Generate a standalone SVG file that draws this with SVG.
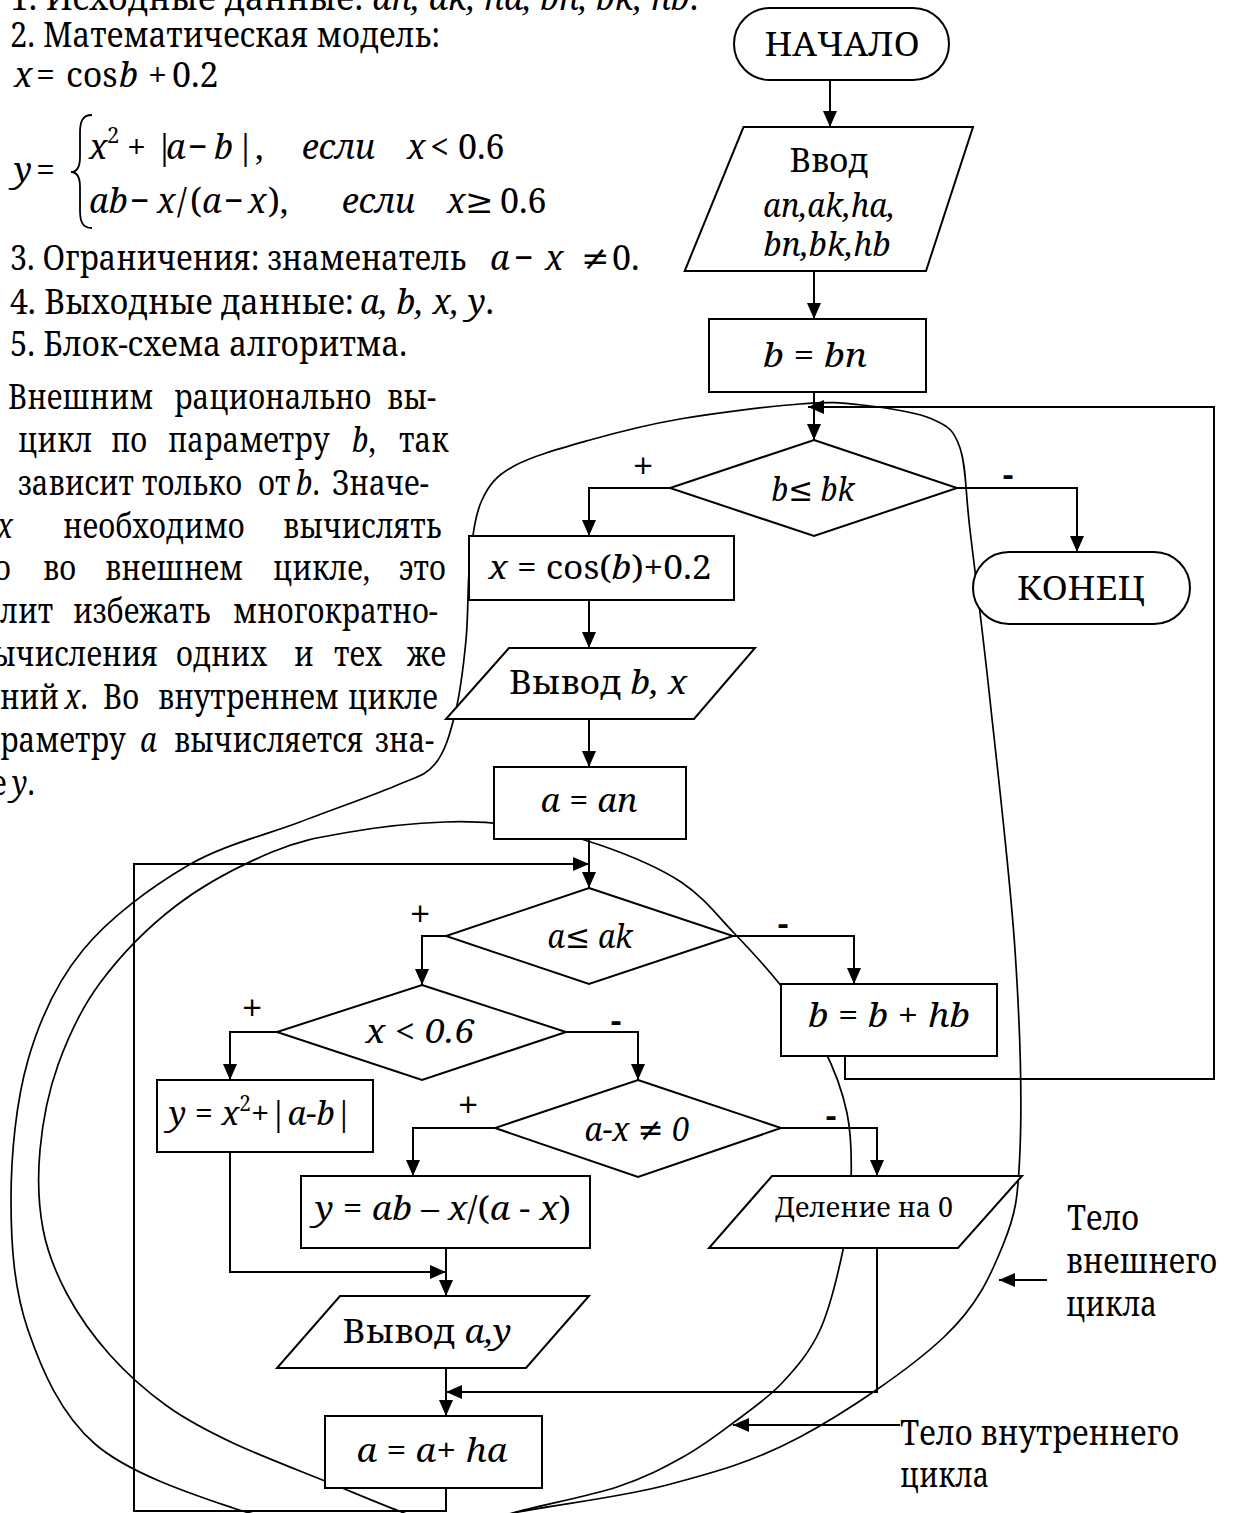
<svg xmlns="http://www.w3.org/2000/svg" width="1234" height="1513" viewBox="0 0 1234 1513">
  <style>
    .t { font-family: "Noto Serif", "DejaVu Serif", serif; font-size: 34px; fill: #000; }
    .n { font-family: "Noto Serif", "DejaVu Serif", serif; font-size: 33px; fill: #000; text-anchor: middle; }
    .i { font-style: italic; }
    .sym { font-family: "DejaVu Serif", serif; font-style: normal; }
    .shape { fill: #fff; stroke: #000; stroke-width: 2; }
    .ln { fill: none; stroke: #000; stroke-width: 2; }
    .cv { fill: none; stroke: #000; stroke-width: 1.7; }
    .sg { font-family: "Noto Serif", "DejaVu Serif", serif; font-size: 38px; fill: #000; text-anchor: middle; }
    .mn { font-family: "Noto Serif", "DejaVu Serif", serif; font-size: 34px; font-weight: bold; fill: #000; text-anchor: middle; }
  </style>
  <defs>
    <marker id="ah" markerUnits="userSpaceOnUse" markerWidth="16" markerHeight="14" refX="16" refY="7" orient="auto">
      <path d="M0,0 L16,7 L0,14 Z" fill="#000"/>
    </marker>
  </defs>
  <rect width="1234" height="1513" fill="#fff"/>

  <!-- problem statement, left column -->
  <g id="statement" class="t">
    <text x="10" y="10" textLength="688" lengthAdjust="spacingAndGlyphs">1. Исходные данные: <tspan class="i">an, ak, ha, bn, bk, hb</tspan>.</text>
    <text x="10" y="47" textLength="430" lengthAdjust="spacingAndGlyphs">2. Математическая модель:</text>
    <text y="87"><tspan x="14" class="i">x</tspan><tspan x="36">=</tspan><tspan x="66">cos</tspan><tspan x="119" class="i">b</tspan><tspan x="148">+</tspan><tspan x="172">0.2</tspan></text>
    <text y="182"><tspan x="14" class="i">y</tspan><tspan x="36">=</tspan></text>
    <text y="159"><tspan x="89" class="i">x</tspan><tspan x="107" y="143" style="font-size:22px">2</tspan><tspan x="127" y="159">+</tspan><tspan x="155">|</tspan><tspan x="166" class="i">a</tspan><tspan x="188">−</tspan><tspan x="214" class="i">b</tspan><tspan x="236">|,</tspan><tspan x="302" class="i">если</tspan><tspan x="407" class="i">x</tspan><tspan x="430">&lt;</tspan><tspan x="458">0.6</tspan></text>
    <text y="213"><tspan x="89" class="i">ab</tspan><tspan x="130">−</tspan><tspan x="157" class="i">x</tspan><tspan x="177">/</tspan><tspan x="190">(</tspan><tspan x="202" class="i">a</tspan><tspan x="224">−</tspan><tspan x="248" class="i">x</tspan><tspan x="268">),</tspan><tspan x="342" class="i">если</tspan><tspan x="447" class="i">x</tspan><tspan x="465">≥</tspan><tspan x="500">0.6</tspan></text>
    <text x="10" y="270" textLength="456" lengthAdjust="spacingAndGlyphs">3. Ограничения: знаменатель</text>
    <text y="270"><tspan x="490" class="i">a</tspan><tspan x="514">−</tspan><tspan x="545" class="i">x</tspan><tspan x="581" class="sym">≠</tspan><tspan x="612">0.</tspan></text>
    <text x="10" y="314" textLength="344" lengthAdjust="spacingAndGlyphs">4. Выходные данные:</text>
    <text x="360" y="314" textLength="134" lengthAdjust="spacingAndGlyphs"><tspan class="i">a, b, x, y</tspan>.</text>
    <text x="10" y="356" textLength="397" lengthAdjust="spacingAndGlyphs">5. Блок-схема алгоритма.</text>
  </g>
  <path id="brace" class="ln" style="stroke-width:1.8" d="M92,115 C82,115 80,122 80,133 L80,157 C80,167 77,172 71,172 C77,172 80,177 80,187 L80,210 C80,221 82,228 92,228"/>

  <!-- justified paragraph, set condensed -->
  <g id="paragraph" class="t" transform="scale(0.86 1)">
    <text y="409"><tspan x="9.3">Внешним</tspan><tspan x="202.3">рационально</tspan><tspan x="450">вы-</tspan></text>
    <text y="452"><tspan x="20.9">цикл</tspan><tspan x="129.1">по</tspan><tspan x="195.3">параметру</tspan><tspan x="409.3" class="i">b</tspan><tspan>,</tspan><tspan x="464">так</tspan></text>
    <text y="495"><tspan x="20.9">зависит</tspan><tspan x="165.1">только</tspan><tspan x="300">от</tspan><tspan x="344.2" class="i">b</tspan><tspan>.</tspan><tspan x="386">Значе-</tspan></text>
    <text y="538"><tspan x="-3.5" class="i">x</tspan><tspan x="73.3">необходимо</tspan><tspan x="329.1">вычислять</tspan></text>
    <text y="580"><tspan x="-7">о</tspan><tspan x="50">во</tspan><tspan x="122.1">внешнем</tspan><tspan x="317.4">цикле,</tspan><tspan x="464">это</tspan></text>
    <text y="623"><tspan x="0">лит</tspan><tspan x="84.9">избежать</tspan><tspan x="270.9">многократно-</tspan></text>
    <text y="666"><tspan x="-9.3">ычисления</tspan><tspan x="204.7">одних</tspan><tspan x="341.9">и</tspan><tspan x="388.4">тех</tspan><tspan x="473.3">же</tspan></text>
    <text y="709"><tspan x="0">ний</tspan><tspan x="75" class="i">x</tspan><tspan>.</tspan><tspan x="119.8">Во</tspan><tspan x="183.7">внутреннем</tspan><tspan x="404.7">цикле</tspan></text>
    <text y="752"><tspan x="0">раметру</tspan><tspan x="162.8" class="i">a</tspan><tspan x="202.3">вычисляется</tspan><tspan x="436">зна-</tspan></text>
    <text y="795"><tspan x="-10.5">е</tspan><tspan x="14" class="i">y</tspan><tspan>.</tspan></text>
  </g>

  <!-- loop body outlines -->
  <g id="loop-bodies">
    <path id="outer-body" class="cv" d="M420,1535 C450.5,1533.2 471.8,1521.3 513,1513 S619.2,1497.7 667,1485 S753.8,1461.7 800,1437 S910.2,1369 944,1337 S990.3,1276.2 1003,1245 S1018,1199.2 1020,1150 S1020,1025 1015,950 S997.5,770 990,700 S975,572 970,530 S966.3,466.5 960,448 S948.3,426.2 932,419 S884,407.5 862,405 S830.3,401.7 800,404 S715,413 680,419 S617.7,432.2 590,440 S532,456 514,466 S489.3,484.3 482,500 S472.7,536.7 470,560 S468.5,614.3 466,640 S460.2,693.3 455,714 S445,752 435,764 S417.5,776.3 395,786 S334.7,808.7 300,822 S223.2,844.7 187,866 S109.5,917.7 83,950 S40,1018.3 28,1060 S11,1155 11,1200 S14,1289.3 28,1330 S60.8,1414.3 95,1444 S193.8,1494.7 233,1508 S298.8,1519.5 330,1524 S389.5,1536.8 420,1535 Z"/>
    <path id="inner-body" class="cv" d="M460,1532 C479,1532.3 486.8,1520.5 513,1513 S588.7,1496.3 617,1487 S663.7,1467.7 683,1457 S716.5,1435.3 733,1423 S767.5,1398.5 782,1383 S809.8,1352.2 820,1330 S837.8,1274.5 843,1250 S850.3,1205.8 851,1183 S851.7,1135.7 847,1113 S833.8,1068 823,1047 S796.8,1006 782,987 S750.8,950.5 734,933 S703.3,896.7 681,882 S626.8,854.3 600,845 S545.8,829.8 520,826 S473.3,821 445,822 S378.8,827 350,832 S300.8,839.8 272,852 S205.7,883.2 177,905 S119.8,956.3 100,983 S68,1037.2 58,1065 S42.5,1122.7 40,1150 S38.5,1205 43,1229 S55.8,1273 67,1294 S93.3,1336.3 110,1355 S146.5,1391.3 167,1406 S205.8,1430.2 233,1443 S302.3,1471.7 330,1483 S377.3,1502.8 399,1511 S441,1531.7 460,1532 Z"/>
  </g>

  <!-- flow lines -->
  <g id="connectors" class="ln">
    <line x1="830" y1="80" x2="830" y2="127" marker-end="url(#ah)"/>
    <line x1="814" y1="271" x2="814" y2="319" marker-end="url(#ah)"/>
    <line x1="814" y1="392" x2="814" y2="440" marker-end="url(#ah)"/>
    <polyline points="845,1056 845,1079 1214,1079 1214,407 808,407" marker-end="url(#ah)"/>
    <polyline points="670,488 589,488 589,536" marker-end="url(#ah)"/>
    <polyline points="957,488 1077,488 1077,552" marker-end="url(#ah)"/>
    <line x1="589" y1="600" x2="589" y2="648" marker-end="url(#ah)"/>
    <line x1="589" y1="719" x2="589" y2="767" marker-end="url(#ah)"/>
    <line x1="589" y1="839" x2="589" y2="888" marker-end="url(#ah)"/>
    <polyline points="446,1488 446,1511 134,1511 134,864 589,864" marker-end="url(#ah)"/>
    <polyline points="446,936 422,936 422,985" marker-end="url(#ah)"/>
    <polyline points="733,936 854,936 854,984" marker-end="url(#ah)"/>
    <polyline points="277,1032 230,1032 230,1080" marker-end="url(#ah)"/>
    <polyline points="566,1032 638,1032 638,1080" marker-end="url(#ah)"/>
    <polyline points="495,1128 413,1128 413,1176" marker-end="url(#ah)"/>
    <polyline points="781,1128 877,1128 877,1176" marker-end="url(#ah)"/>
    <line x1="446" y1="1248" x2="446" y2="1296" marker-end="url(#ah)"/>
    <polyline points="230,1152 230,1272 446,1272" marker-end="url(#ah)"/>
    <line x1="446" y1="1368" x2="446" y2="1416" marker-end="url(#ah)"/>
    <polyline points="877,1248 877,1392 446,1392" marker-end="url(#ah)"/>
    <line x1="1047" y1="1280" x2="999" y2="1280" marker-end="url(#ah)"/>
    <line x1="900" y1="1425" x2="733" y2="1425" marker-end="url(#ah)"/>
  </g>

  <!-- branch labels -->
  <g id="branch-labels">
    <text class="sg" x="643" y="480">+</text>
    <text class="mn" x="1008" y="487">-</text>
    <text class="sg" x="420" y="928">+</text>
    <text class="mn" x="783" y="936">-</text>
    <text class="sg" x="252" y="1022">+</text>
    <text class="mn" x="616" y="1033">-</text>
    <text class="sg" x="468" y="1119">+</text>
    <text class="mn" x="831" y="1128">-</text>
  </g>

  <g id="start">
    <rect class="shape" x="734" y="8" width="215" height="72" rx="36"/>
    <text class="n" x="842" y="56" textLength="155" lengthAdjust="spacingAndGlyphs">НАЧАЛО</text>
  </g>
  <g id="input">
    <polygon class="shape" points="743.5,127 973,127 926,271 684.7,271"/>
    <text class="n" x="829" y="172" style="font-size:32px" textLength="79" lengthAdjust="spacingAndGlyphs">Ввод</text>
    <text class="n i" x="829" y="217" style="font-size:32px" textLength="132" lengthAdjust="spacingAndGlyphs">an,ak,ha,</text>
    <text class="n i" x="827" y="256" style="font-size:32px" textLength="127" lengthAdjust="spacingAndGlyphs">bn,bk,hb</text>
  </g>
  <g id="init-b">
    <rect class="shape" x="709" y="319" width="217" height="73"/>
    <text class="n" x="815" y="367" textLength="104" lengthAdjust="spacingAndGlyphs"><tspan class="i">b</tspan> = <tspan class="i">bn</tspan></text>
  </g>
  <g id="cond-b">
    <polygon class="shape" points="814,440 957,488 814,536 670,488"/>
    <text class="n" x="813" y="501" textLength="83" lengthAdjust="spacingAndGlyphs"><tspan class="i">b</tspan>≤<tspan class="i"> bk</tspan></text>
  </g>
  <g id="end">
    <rect class="shape" x="973" y="552" width="217" height="72" rx="36"/>
    <text class="n" x="1081" y="600" textLength="128" lengthAdjust="spacingAndGlyphs">КОНЕЦ</text>
  </g>
  <g id="calc-x">
    <rect class="shape" x="469" y="536" width="265" height="64"/>
    <text class="n" x="600" y="579" textLength="223" lengthAdjust="spacingAndGlyphs"><tspan class="i">x</tspan> = cos(<tspan class="i">b</tspan>)+0.2</text>
  </g>
  <g id="out-bx">
    <polygon class="shape" points="509,648 755,648 694,719 446,719"/>
    <text class="n" x="598" y="694" textLength="178" lengthAdjust="spacingAndGlyphs">Вывод  <tspan class="i">b, x</tspan></text>
  </g>
  <g id="init-a">
    <rect class="shape" x="494" y="767" width="192" height="72"/>
    <text class="n" x="589" y="812" textLength="97" lengthAdjust="spacingAndGlyphs"><tspan class="i">a</tspan> = <tspan class="i">an</tspan></text>
  </g>
  <g id="cond-a">
    <polygon class="shape" points="589,888 733,936 589,984 446,936"/>
    <text class="n" x="590" y="948" textLength="85" lengthAdjust="spacingAndGlyphs"><tspan class="i">a</tspan>≤<tspan class="i"> ak</tspan></text>
  </g>
  <g id="step-b">
    <rect class="shape" x="781" y="984" width="216" height="72"/>
    <text class="n" x="889" y="1027" textLength="162" lengthAdjust="spacingAndGlyphs"><tspan class="i">b</tspan> = <tspan class="i">b</tspan> + <tspan class="i">hb</tspan></text>
  </g>
  <g id="cond-x">
    <polygon class="shape" points="422,985 566,1032 422,1080 277,1032"/>
    <text class="n i" x="420" y="1043" textLength="109" lengthAdjust="spacingAndGlyphs">x &lt; 0.6</text>
  </g>
  <g id="calc-y1">
    <rect class="shape" x="157" y="1080" width="216" height="72"/>
    <text class="n" x="261" y="1125" textLength="184" lengthAdjust="spacingAndGlyphs"><tspan class="i">y</tspan> = <tspan class="i">x</tspan><tspan dy="-14" style="font-size:21px">2</tspan><tspan dy="14">+|</tspan><tspan class="i">a-b</tspan>|</text>
  </g>
  <g id="cond-ax">
    <polygon class="shape" points="638,1080 781,1128 638,1177 495,1128"/>
    <text class="n" x="637" y="1141" textLength="105" lengthAdjust="spacingAndGlyphs"><tspan class="i">a-x </tspan><tspan class="sym">≠</tspan><tspan class="i"> 0</tspan></text>
  </g>
  <g id="calc-y2">
    <rect class="shape" x="301" y="1176" width="289" height="72"/>
    <text class="n" x="443" y="1220" textLength="256" lengthAdjust="spacingAndGlyphs"><tspan class="i">y</tspan> = <tspan class="i">ab</tspan> – <tspan class="i">x</tspan>/(<tspan class="i">a</tspan> - <tspan class="i">x</tspan>)</text>
  </g>
  <g id="div-zero">
    <polygon class="shape" points="772,1176 1022,1176 958,1248 709,1248"/>
    <text class="n" x="864" y="1217" style="font-size:27px" textLength="178" lengthAdjust="spacingAndGlyphs">Деление на 0</text>
  </g>
  <g id="out-ay">
    <polygon class="shape" points="340,1296 589,1296 526,1368 277,1368"/>
    <text class="n" x="427" y="1343" textLength="169" lengthAdjust="spacingAndGlyphs">Вывод  <tspan class="i">a,y</tspan></text>
  </g>
  <g id="step-a">
    <rect class="shape" x="325" y="1416" width="217" height="72"/>
    <text class="n" x="432" y="1462" textLength="151" lengthAdjust="spacingAndGlyphs"><tspan class="i">a</tspan> = <tspan class="i">a</tspan>+ <tspan class="i">ha</tspan></text>
  </g>

  <!-- annotations for the loop bodies -->
  <g id="notes" class="t">
    <text x="1067" y="1230" textLength="72" lengthAdjust="spacingAndGlyphs">Тело</text>
    <text x="1066" y="1273" textLength="151" lengthAdjust="spacingAndGlyphs">внешнего</text>
    <text x="1066" y="1316" textLength="91" lengthAdjust="spacingAndGlyphs">цикла</text>
    <text x="900" y="1445" textLength="279" lengthAdjust="spacingAndGlyphs">Тело внутреннего</text>
    <text x="900" y="1487" textLength="89" lengthAdjust="spacingAndGlyphs">цикла</text>
  </g>
</svg>
